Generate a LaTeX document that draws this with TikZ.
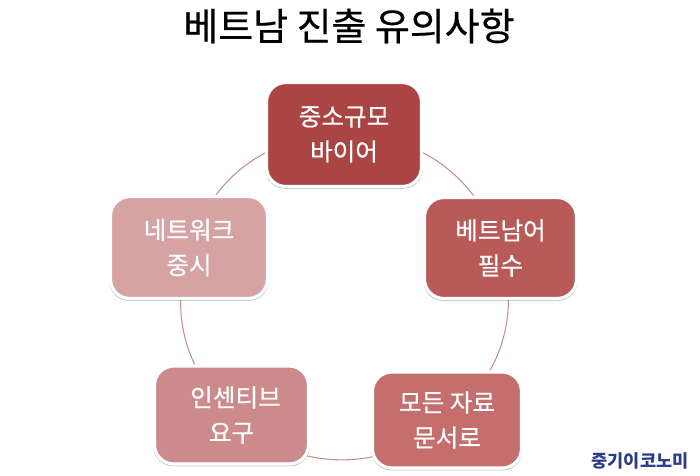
\documentclass[tikz,border=0pt]{standalone}
\usepackage{fontspec}
\setmainfont{Noto Sans CJK KR}
\newfontfamily\medfont[FakeBold=0.5]{Noto Sans CJK KR}
\usepackage{xcolor}
\usetikzlibrary{shadows,backgrounds}
\definecolor{boxA}{HTML}{AB4543}
\definecolor{boxB}{HTML}{B85A58}
\definecolor{boxC}{HTML}{C46E6E}
\definecolor{boxD}{HTML}{CC8A8A}
\definecolor{boxE}{HTML}{D5A3A3}
\definecolor{ringline}{HTML}{C58F8E}
\definecolor{logoblue}{HTML}{2B3C8C}
\tikzset{
  card/.style={draw=white,line width=1.8pt,rounded corners=11pt,align=center,text=white,
    font=\medfont\fontsize{14}{20}\selectfont,inner sep=0pt,
    drop shadow={shadow xshift=0pt,shadow yshift=-0.9pt,shadow scale=1.015,opacity=.22,fill=black}},
  ring/.style={ringline,line width=0.6pt}
}
\begin{document}
\begin{tikzpicture}[x=0.02cm,y=-0.02cm]
\useasboundingbox (0,0) rectangle (700,476);

% Title
\node[font=\medfont\fontsize{21.6}{26}\selectfont] (title) at (349,26) {베트남 진출 유의사항};

% Boxes
\node[card,fill=boxA,minimum width=3.1cm,minimum height=2.08cm] (buyer) at (344,134.5) {중소규모\\바이어};
\node[card,fill=boxB,minimum width=3.04cm,minimum height=2.02cm] (lang) at (500.5,248) {베트남어\\필수};
\node[card,fill=boxC,minimum width=2.98cm,minimum height=1.92cm] (docs) at (447,420) {모든 자료\\문서로};
\node[card,fill=boxD,minimum width=3.08cm,minimum height=1.96cm,text width=2.88cm] (bonus) at (231.5,415) {\hspace*{4.6pt}인센티브\\요구};
\node[card,fill=boxE,minimum width=3.14cm,minimum height=2.04cm] (network) at (189,247.5) {네트워크\\중시};

% Logo
\node[text=logoblue,font=\fontsize{10}{12}\selectfont\bfseries,inner sep=0pt] (logo) at (640,461) {중기이코노미};

% Ring behind the boxes
\begin{scope}[on background layer]
\draw[ring] (buyer.center) to[bend left=36] (lang.center);
\draw[ring] (lang.center) to[bend left=34] (docs.center);
\draw[ring] (docs.center) to[bend left=42] (bonus.center);
\draw[ring] (bonus.center) to[bend left=31] (network.center);
\draw[ring] (network.center) to[bend left=36] (buyer.center);
\end{scope}

\end{tikzpicture}
\end{document}
